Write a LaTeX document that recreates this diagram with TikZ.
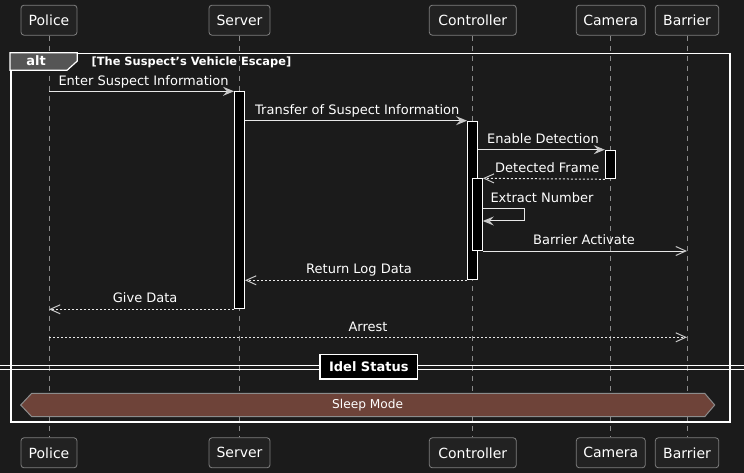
\documentclass[tikz,border=0pt]{standalone}
\usepackage{fontspec}
\setmainfont{DejaVu Sans}
\usetikzlibrary{arrows.meta}
\definecolor{bg}{HTML}{1B1B1B}
\definecolor{partfill}{HTML}{222222}
\definecolor{partline}{HTML}{7E7E7E}
\definecolor{lifegray}{HTML}{8A8A8A}
\definecolor{msgline}{HTML}{E8E8E8}
\definecolor{headgray}{HTML}{C8C8C8}
\definecolor{tabgray}{HTML}{555555}
\definecolor{sleepfill}{HTML}{6E4339}
\definecolor{sleepline}{HTML}{8C8C8C}
\tikzset{
  partbox/.style={draw=partline, fill=partfill, rounded corners=3pt, minimum height=30pt,
    inner sep=0pt, text=white, font=\fontsize{14}{16}\selectfont, line width=0.8pt},
  lifeline/.style={draw=lifegray, line width=0.8pt, dash pattern=on 5pt off 5pt},
  actbar/.style={draw=white, fill=black, minimum width=10pt, inner sep=0pt, line width=1pt, anchor=north},
  msgtext/.style={text=white, font=\fontsize{13}{15}\selectfont, inner sep=0pt, anchor=base west},
  syncmsg/.style={draw=msgline, line width=1pt, -{Stealth[length=11pt,width=9pt,inset=4pt,fill=headgray,color=headgray]}},
  replymsg/.style={draw=msgline, line width=1pt, dash pattern=on 2pt off 2pt, -{Straight Barb[length=10pt,width=9pt,color=headgray]}},
  asyncmsg/.style={draw=msgline, line width=1pt, -{Straight Barb[length=10pt,width=9pt,color=headgray]}},
}
\begin{document}
\begin{tikzpicture}[x=1pt,y=-1pt]
\fill[bg] (0,0) rectangle (744,473);
\useasboundingbox (0,0) rectangle (744,473);

% participants
\node[partbox, minimum width=56pt] (pT) at (49,20.2) {Police};
\node[partbox, minimum width=61pt] (sT) at (239.5,20.2) {Server};
\node[partbox, minimum width=87pt] (cT) at (472.8,20.2) {Controller};
\node[partbox, minimum width=69pt] (camT) at (610.8,20.2) {Camera};
\node[partbox, minimum width=63.4pt] (bT) at (687,20.2) {Barrier};
\node[partbox, minimum width=56pt] (pB) at (49,452.8) {Police};
\node[partbox, minimum width=61pt] (sB) at (239.5,452.8) {Server};
\node[partbox, minimum width=87pt] (cB) at (472.8,452.8) {Controller};
\node[partbox, minimum width=69pt] (camB) at (610.8,452.8) {Camera};
\node[partbox, minimum width=63.4pt] (bB) at (687,452.8) {Barrier};

% lifelines
\draw[lifeline] (pT.south) -- (pB.north);
\draw[lifeline] (sT.south) -- (sB.north);
\draw[lifeline] (cT.south) -- (cB.north);
\draw[lifeline] (camT.south) -- (camB.north);
\draw[lifeline] (bT.south) -- (bB.north);

% alt frame
\node[draw=white, line width=1.5pt, minimum width=719.3pt, minimum height=368.3pt, inner sep=0pt, anchor=north west] (altframe) at (10,52.7) {};
\filldraw[fill=tabgray, draw=white, line width=1.2pt] (10,52.7) -- (77.3,52.7) -- (77.3,61) -- (67,70.3) -- (10,70.3) -- cycle;
\node[text=white, font=\bfseries\fontsize{13}{15}\selectfont, inner sep=0pt] (altlbl) at (36,61) {alt};
\node[text=white, font=\bfseries\fontsize{11.4}{13}\selectfont, inner sep=0pt, anchor=west] (cond) at (91.5,62) {[The Suspect{\char"27}s Vehicle Escape]};

% activations
\node[actbar, minimum height=217pt] (sAct) at (239.5,91.3) {};
\node[actbar, minimum height=158.6pt] (cAct) at (472.5,120.7) {};
\node[actbar, minimum height=28.6pt] (camAct) at (610.3,149.7) {};
\node[actbar, minimum height=71.7pt] (cAct2) at (477.3,178.3) {};

% message endpoints
\coordinate (m1a) at (pT.south |- 0,91.3);
\coordinate (m5a) at (cAct2.east |- 0,208.3);
\coordinate (m5b) at (524.3,208.3);
\coordinate (m5c) at (524.3,221);
\coordinate (m5d) at (cAct2.east |- 0,221);
\coordinate (m6b) at (bT.south |- cAct2.south);
\coordinate (m8b) at (pT.south |- sAct.south);
\coordinate (m9a) at (pT.south |- 0,337.3);
\coordinate (m9b) at (bT.south |- 0,337.3);

% messages
\draw[syncmsg] (m1a) -- (sAct.north west);
\node[msgtext] (t1) at (58.3,85.5) {Enter Suspect Information};

\draw[syncmsg] (sAct.north east |- cAct.north) -- (cAct.north west);
\node[msgtext] (t2) at (255,114.7) {Transfer of Suspect Information};

\draw[syncmsg] (cAct.east |- camAct.north) -- (camAct.north west);
\node[msgtext] (t3) at (487,143.7) {Enable Detection};

\draw[replymsg] (camAct.south west) -- (cAct2.north east);
\node[msgtext] (t4) at (495,172.3) {Detected Frame};

\draw[syncmsg] (m5a) -- (m5b) -- (m5c) -- (m5d);
\node[msgtext] (t5) at (490.3,202.3) {Extract Number};

\draw[asyncmsg] (cAct2.south east) -- (m6b);
\node[msgtext] (t6) at (533,244) {Barrier Activate};

\draw[replymsg] (cAct.south west) -- (sAct.east |- cAct.south);
\node[msgtext] (t7) at (306,273.3) {Return Log Data};

\draw[replymsg] (sAct.south west) -- (m8b);
\node[msgtext] (t8) at (112.7,302.3) {Give Data};

\draw[replymsg] (m9a) -- (m9b);
\node[msgtext] (t9) at (348.3,331.3) {Arrest};

% divider
\draw[white, line width=1pt] (0,365.5) -- (744,365.5);
\draw[white, line width=1pt] (0,369) -- (744,369);
\node[draw=white, fill=black, line width=1.5pt, minimum width=97.7pt, minimum height=24.3pt, inner sep=0pt,
  text=white, font=\bfseries\fontsize{13}{15}\selectfont] (idle) at (368.8,366.8) {Idel Status};

% sleep mode
\filldraw[fill=sleepfill, draw=sleepline, line width=1pt] (20.7,405) -- (31.7,393.3) -- (704.7,393.3) -- (714.7,405) -- (704.7,416.7) -- (31.7,416.7) -- cycle;
\node[text=white, font=\fontsize{12.2}{14}\selectfont, inner sep=0pt] (sleep) at (367.7,405.5) {Sleep Mode};
\end{tikzpicture}
\end{document}
